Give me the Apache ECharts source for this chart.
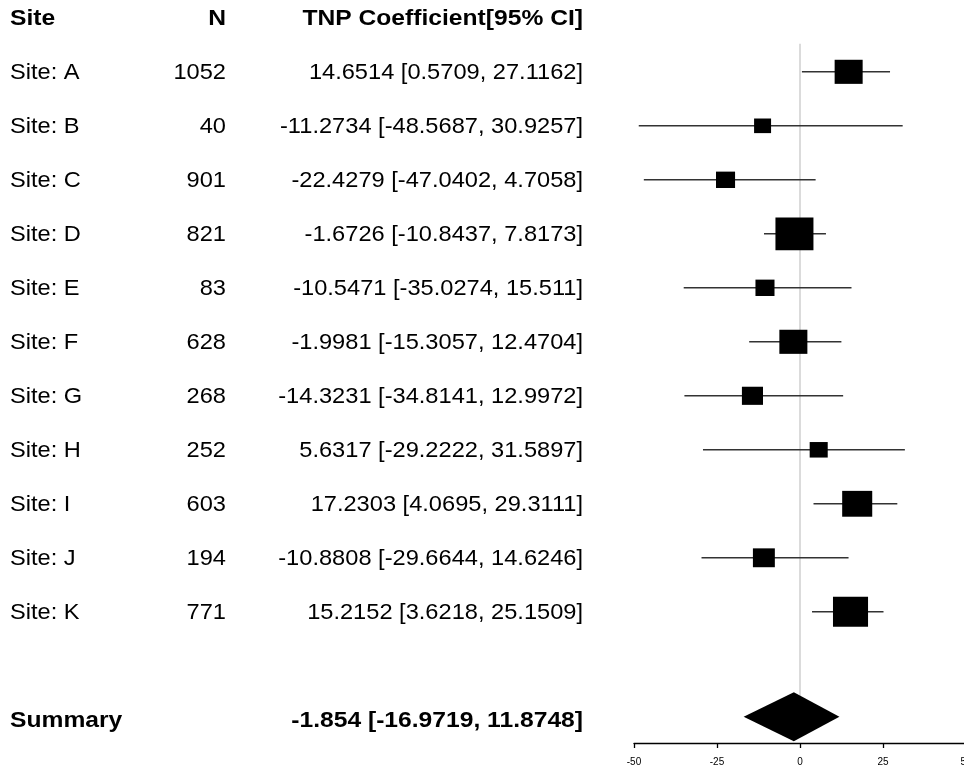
<!DOCTYPE html>
<html>
<head>
<meta charset="utf-8">
<script src="https://cdn.jsdelivr.net/npm/echarts@6/dist/echarts.min.js"></script>
<style>
html,body{margin:0;padding:0;background:#fff;}
#chart{width:964px;height:772px;}
</style>
</head>
<body>
<div id="chart"></div>
<script>
// ---- data ----
const sites = ['Site: A','Site: B','Site: C','Site: D','Site: E','Site: F','Site: G','Site: H','Site: I','Site: J','Site: K'];
const nValues = [1052, 40, 901, 821, 83, 628, 268, 252, 603, 194, 771];
const estimates = [14.6514, -11.2734, -22.4279, -1.6726, -10.5471, -1.9981, -14.3231, 5.6317, 17.2303, -10.8808, 15.2152];
const lowerCI = [0.5709, -48.5687, -47.0402, -10.8437, -35.0274, -15.3057, -34.8141, -29.2222, 4.0695, -29.6644, 3.6218];
const upperCI = [27.1162, 30.9257, 4.7058, 7.8173, 15.511, 12.4704, 12.9972, 31.5897, 29.3111, 14.6246, 25.1509];
const weights = [10.6, 3.9, 4.9, 19.5, 4.9, 10.6, 6.0, 4.4, 12.2, 6.5, 16.6]; // relative weight (%)
const summaryLabel = 'Summary';
const summaryEst = -1.854;
const summaryLower = -16.9719;
const summaryUpper = 11.8748;
const headers = ['Site', 'N', 'TNP Coefficient[95% CI]'];
const xTicks = [-50, -25, 0, 25, 50];

// ---- layout helpers ----
const k = sites.length;
const rows = sites.map((s, i) => k - i);   // study rows k..1
const summaryRow = -1;
const headerRow = k + 1;
const maxW = Math.max(...weights);
const BOX_MAX = 38;
const FONT = '"Liberation Sans", Arial, sans-serif';
const FS = 22.5;

const tableRows = [];
tableRows.push({row: headerRow, c: headers, bold: true});
sites.forEach((s, i) => {
  tableRows.push({row: rows[i], c: [s, String(nValues[i]), estimates[i] + ' [' + lowerCI[i] + ', ' + upperCI[i] + ']'], bold: false});
});
tableRows.push({row: summaryRow, c: [summaryLabel, '', summaryEst + ' [' + summaryLower + ', ' + summaryUpper + ']'], bold: true});

const colX = [10, 226, 583];
const colAlign = ['left', 'right', 'right'];

function txt(text, x, y, align, bold) {
  return {
    type: 'text',
    x: x, y: y, scaleX: bold ? 1.095 : 1.05, scaleY: 1,
    style: {
      text: text, x: 0, y: 0,
      align: align, textAlign: align,
      verticalAlign: 'middle', textVerticalAlign: 'middle',
      fontSize: FS, fontFamily: FONT, fontWeight: bold ? 'bold' : 'normal',
      fill: '#000'
    }
  };
}

const chart = echarts.init(document.getElementById('chart'), null, {renderer: 'canvas'});

const option = {
  animation: false,
  backgroundColor: '#fff',
  grid: {left: 634, top: 0, width: 332, height: 743, containLabel: false, outerBoundsMode: 'none'},
  xAxis: {
    type: 'value', min: xTicks[0], max: xTicks[xTicks.length - 1], interval: 25,
    axisLine: {show: true, onZero: false, lineStyle: {color: '#000', width: 1.3}},
    axisTick: {show: true, length: 5, lineStyle: {color: '#000', width: 1.3}},
    axisLabel: {fontSize: 10, color: '#000', margin: 14, fontFamily: FONT, showMaxLabel: true, showMinLabel: true},
    splitLine: {show: false}
  },
  yAxis: {type: 'value', min: -1.43, max: 12.33, show: false},
  series: [
    { // reference line at 0
      type: 'custom', z: 1, silent: true,
      data: [[0, 11.52, -1]],
      renderItem: function (params, api) {
        const a = api.coord([api.value(0), api.value(1)]);
        const b = api.coord([api.value(0), api.value(2)]);
        return {type: 'line', shape: {x1: a[0], y1: a[1], x2: b[0], y2: b[1]}, style: {stroke: '#cfcfcf', lineWidth: 1.5}};
      }
    },
    { // study CIs and boxes
      type: 'custom', z: 3, silent: true,
      data: rows.map((r, i) => [estimates[i], r, lowerCI[i], upperCI[i], weights[i]]),
      encode: {x: [0, 2, 3], y: 1},
      renderItem: function (params, api) {
        const y = api.value(1);
        const p = api.coord([api.value(0), y]);
        const l = api.coord([api.value(2), y]);
        const u = api.coord([api.value(3), y]);
        const s = BOX_MAX * Math.sqrt(api.value(4) / maxW);
        const h = s * 0.86;
        return {
          type: 'group',
          children: [
            {type: 'line', shape: {x1: l[0], y1: l[1], x2: u[0], y2: u[1]}, style: {stroke: '#333', lineWidth: 1.4}},
            {type: 'rect', shape: {x: p[0] - s / 2, y: p[1] - h / 2, width: s, height: h}, style: {fill: '#000'}}
          ]
        };
      }
    },
    { // summary diamond
      type: 'custom', z: 4, silent: true,
      data: [[summaryEst, summaryRow, summaryLower, summaryUpper]],
      encode: {x: [0, 2, 3], y: 1},
      renderItem: function (params, api) {
        const y = api.value(1);
        const c = api.coord([api.value(0), y]);
        const l = api.coord([api.value(2), y]);
        const u = api.coord([api.value(3), y]);
        const hh = 24.5;
        const cy = c[1] - 3;
        return {
          type: 'polygon',
          shape: {points: [[l[0], cy], [c[0], cy - hh], [u[0], cy], [c[0], cy + hh]]},
          style: {fill: '#000'}
        };
      }
    },
    { // table text
      type: 'custom', z: 5, silent: true, clip: false,
      data: tableRows.map((t, i) => [0, t.row, i]),
      encode: {x: 0, y: 1},
      renderItem: function (params, api) {
        const t = tableRows[api.value(2)];
        const y = api.coord([0, t.row])[1] + 1;
        const children = [];
        t.c.forEach((s, j) => { if (s) children.push(txt(s, colX[j], y, colAlign[j], t.bold)); });
        return {type: 'group', children: children};
      }
    }
  ]
};
chart.setOption(option);
</script>
</body>
</html>
